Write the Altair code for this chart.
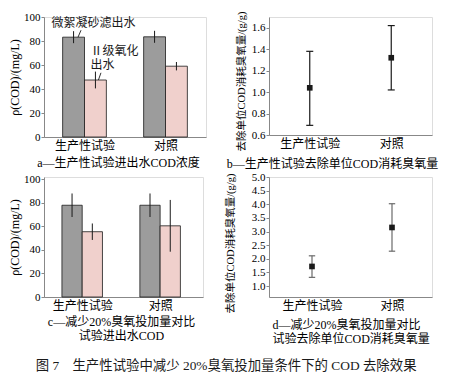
import altair as alt
import pandas as pd

categories = ["生产性试验", "对照"]
series_names = ["微絮凝砂滤出水", "Ⅱ级氧化出水"]

# panel a: COD of inflow / outflow (mg/L)
a_sand = [83.2, 83.5]
a_sand_err = [5.0, 5.0]
a_ozone = [47.5, 59.0]
a_ozone_err = [7.0, 3.5]
# panel b: ozone consumed per unit COD removed (g/g)
b_mean = [1.04, 1.32]
b_low = [0.69, 1.02]
b_high = [1.38, 1.62]
# panel c
c_sand = [78.0, 78.0]
c_sand_err = [10.0, 10.0]
c_ozone = [55.5, 60.5]
c_ozone_err = [7.0, 22.0]
# panel d
d_mean = [1.72, 3.15]
d_low = [1.32, 2.28]
d_high = [2.11, 4.02]

cod_ticks = [0, 20, 40, 60, 80, 100]
b_ticks = [0.6, 0.8, 1.0, 1.2, 1.4, 1.6]
d_ticks = [1.0, 1.5, 2.0, 2.5, 3.0, 3.5, 4.0, 4.5, 5.0]

cap_a = "a—生产性试验进出水COD浓度"
cap_b = "b—生产性试验去除单位COD消耗臭氧量"
cap_c = ["c—减少20%臭氧投加量对比", "试验进出水COD"]
cap_d = ["d—减少20%臭氧投加量对比", "试验去除单位COD消耗臭氧量"]
ann_ozone = "Ⅱ级氧化\n\u2002出水"
y_cod = "ρ(COD)/(mg/L)"
y_ozone = "去除单位COD消耗臭氧量/(g/g)"
fig_title = "图 7　生产性试验中减少 20%臭氧投加量条件下的 COD 去除效果"

FONT = "Liberation Serif, Noto Sans CJK SC"
GRAY = "#9c9c9c"
PINK = "#f0d0cc"
INK = "#1a1a1a"

label_expr = "[" + ",".join("'%s'" % c for c in categories) + "][datum.value]"


def bar_frame(sand, sand_err, ozone, ozone_err, w):
    rows = []
    for i in range(len(categories)):
        rows.append(dict(s=series_names[0], x0=i - w, x1=i, xm=i - w / 2,
                         v=sand[i], lo=sand[i] - sand_err[i], hi=sand[i] + sand_err[i]))
        rows.append(dict(s=series_names[1], x0=i, x1=i + w, xm=i + w / 2,
                         v=ozone[i], lo=ozone[i] - ozone_err[i], hi=ozone[i] + ozone_err[i]))
    return pd.DataFrame(rows)


def x_axis(caption, cap_x, cap_align, pad):
    return alt.Axis(values=[0, 1], labelExpr=label_expr, ticks=False, grid=False,
                    labelFontSize=12, labelPadding=3, title=caption, titleX=cap_x,
                    titleAlign=cap_align, titleFontSize=12, titlePadding=pad,
                    titleLineHeight=14, titleFontWeight="normal")


def cod_axis():
    return alt.Axis(values=cod_ticks, grid=False, title=y_cod, tickSize=3,
                    labelPadding=1, labelFontSize=11, titleFontSize=12,
                    titlePadding=2, titleFontWeight="normal", labelOverlap=False)


def bar_panel(df, xs, ys, xa, ya):
    base = alt.Chart(df)
    bars = base.mark_bar(stroke=INK, strokeWidth=0.8).encode(
        x=alt.X("x0:Q", scale=xs, axis=xa), x2="x1:Q",
        y=alt.Y("v:Q", scale=ys, axis=ya), y2=alt.datum(0),
        color=alt.Color("s:N", scale=alt.Scale(domain=series_names, range=[GRAY, PINK]), legend=None),
    )
    err = base.mark_rule(color=INK, strokeWidth=1).encode(
        x=alt.X("xm:Q", scale=xs, axis=xa),
        y=alt.Y("lo:Q", scale=ys, axis=ya), y2="hi:Q",
    )
    return [bars, err]


def point_panel(mean, low, high, ticks, xdom, ydom, width, height, caption,
                cap_x, cap_align, pad, err_color, ytitle_pad, cap_half, title_y):
    rows = []
    for i in range(len(categories)):
        rows.append(dict(i=i, m=mean[i], lo=low[i], hi=high[i],
                         c0=i - cap_half, c1=i + cap_half))
    df = pd.DataFrame(rows)
    xs = alt.Scale(domain=xdom, nice=False, zero=False)
    ys = alt.Scale(domain=ydom, nice=False, zero=False)
    xa = x_axis(caption, cap_x, cap_align, pad)
    ya = alt.Axis(values=ticks, format=".1f", grid=False, title=y_ozone, tickSize=3,
                  labelPadding=1, labelFontSize=11, titleFontSize=10.5,
                  titlePadding=ytitle_pad, titleFontWeight="normal", titleY=title_y,
                  labelOverlap=False)
    base = alt.Chart(df)
    rule = base.mark_rule(color=err_color, strokeWidth=1.2).encode(
        x=alt.X("i:Q", scale=xs, axis=xa), y=alt.Y("lo:Q", scale=ys, axis=ya), y2="hi:Q")
    cap_lo = base.mark_rule(color=err_color, strokeWidth=1.2).encode(
        x=alt.X("c0:Q", scale=xs, axis=xa), x2="c1:Q", y=alt.Y("lo:Q", scale=ys, axis=ya))
    cap_hi = base.mark_rule(color=err_color, strokeWidth=1.2).encode(
        x=alt.X("c0:Q", scale=xs, axis=xa), x2="c1:Q", y=alt.Y("hi:Q", scale=ys, axis=ya))
    pts = base.mark_square(size=32, color=INK, opacity=1).encode(
        x=alt.X("i:Q", scale=xs, axis=xa), y=alt.Y("m:Q", scale=ys, axis=ya))
    return alt.layer(rule, cap_lo, cap_hi, pts).properties(width=width, height=height)


# ---- panel a with annotations ----
dfa = bar_frame(a_sand, a_sand_err, a_ozone, a_ozone_err, 0.27)
xs_a = alt.Scale(domain=[-0.5, 1.5], nice=False, zero=False)
ys_a = alt.Scale(domain=[0, 100], nice=False)
xa_a = x_axis(cap_a, 74, "center", 6)
ya_a = cod_axis()
layers_a = bar_panel(dfa, xs_a, ys_a, xa_a, ya_a)
ann = pd.DataFrame([
    dict(t=series_names[0], x=dfa.xm[0], y=dfa.v[0], dx=20, dy=-14, al="center"),
    dict(t=ann_ozone, x=dfa.xm[1], y=dfa.v[1], dx=-5, dy=-29, al="left"),
])
for _, r in ann.iterrows():
    layers_a.append(
        alt.Chart(pd.DataFrame([r])).mark_text(fontSize=12, dx=r.dx, dy=r.dy, color=INK,
                                             align=r.al, lineBreak="\n", lineHeight=13.5,
                                             font="Noto Sans CJK SC").encode(
            x=alt.X("x:Q", scale=xs_a, axis=xa_a), y=alt.Y("y:Q", scale=ys_a, axis=ya_a),
            text="t:N"))
leaders = pd.DataFrame([
    dict(x=dfa.xm[0] + 0.092, x2=dfa.xm[0] + 0.055, y=dfa.v[0] + 5.8, y2=dfa.v[0]),
    dict(x=dfa.xm[1] + 0.068, x2=dfa.xm[1] + 0.037, y=dfa.v[1] + 6.0, y2=dfa.v[1]),
])
layers_a.append(alt.Chart(leaders).mark_rule(color=INK, strokeWidth=0.9).encode(
    x=alt.X("x:Q", scale=xs_a, axis=xa_a), x2="x2:Q",
    y=alt.Y("y:Q", scale=ys_a, axis=ya_a), y2="y2:Q"))
pa = alt.layer(*layers_a).properties(width=162, height=120)

pb = point_panel(b_mean, b_low, b_high, b_ticks, [-0.5, 1.5], [0.6, 1.7], 163, 118,
                 cap_b, 63, "center", 9, INK, 5, 0.043, 64)

dfc = bar_frame(c_sand, c_sand_err, c_ozone, c_ozone_err, 0.26)
xs_c = alt.Scale(domain=[-0.49, 1.55], nice=False, zero=False)
ys_c = alt.Scale(domain=[0, 102], nice=False)
pc = alt.layer(*bar_panel(dfc, xs_c, ys_c, x_axis(cap_c, 77, "center", 5), cod_axis())
               ).properties(width=159, height=120)

pd_ = point_panel(d_mean, d_low, d_high, d_ticks, [-0.5375, 1.5], [0.6, 5.0], 163, 120,
                  cap_d, 3, "left", 8, "#6a6a6a", 16, 0.04, 66)

chart = alt.concat(pa, pb, pc, pd_, columns=2, spacing={"row": 40, "column": 62},
                   bounds="flush", align="all").properties(
    title=alt.TitleParams(fig_title, orient="bottom", anchor="middle", fontSize=13.4,
                          fontWeight="normal", offset=14, font=FONT, color=INK, dx=3),
    padding={"left": 0, "top": 2, "right": 0, "bottom": 0},
).configure_view(stroke=None).configure_axis(
    labelFont=FONT, titleFont=FONT, labelColor=INK, titleColor=INK,
    domainColor="#333333", tickColor="#333333", domainWidth=1,
).configure(font=FONT, background="white")

chart.save("out.html", embed_options={"renderer": "svg", "actions": False})
